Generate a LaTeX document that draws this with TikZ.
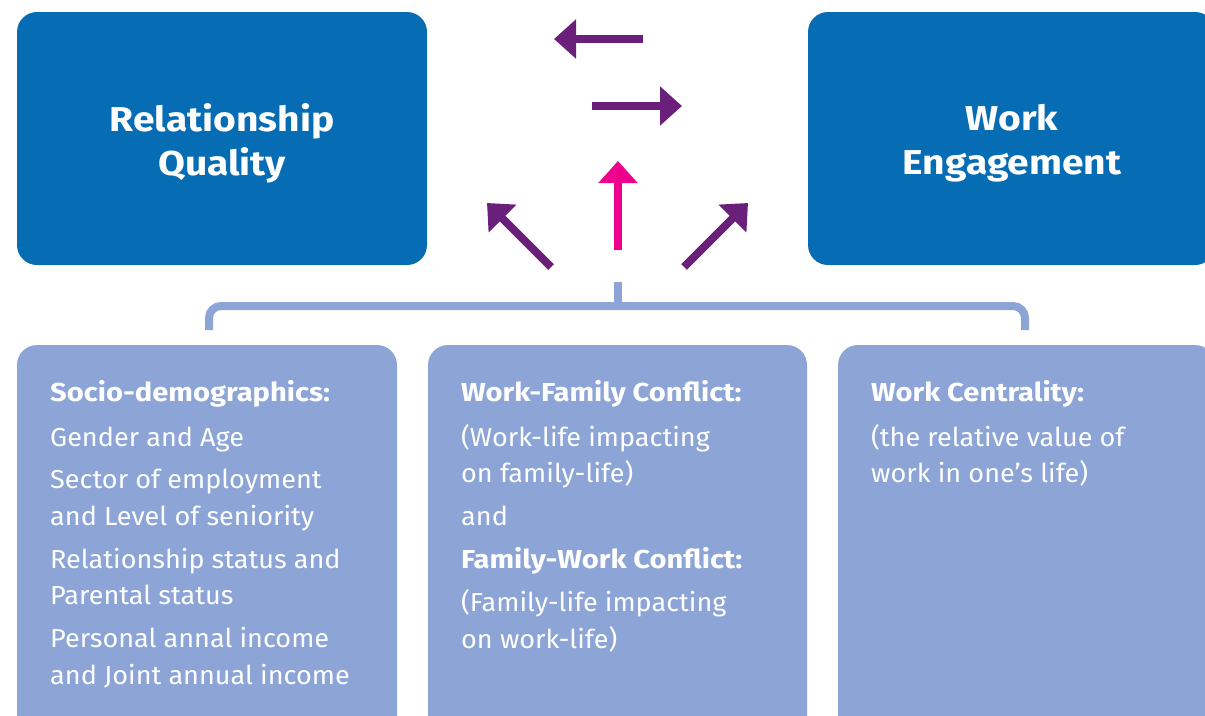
\documentclass[tikz,border=0pt]{standalone}
\usepackage{fontspec}
\setmainfont[FakeStretch=1.04]{Fira Sans}
\newfontfamily\headfont[FakeStretch=1.12]{Fira Sans}
\newfontfamily\titlefont[FakeStretch=1.13]{Fira Sans}
\usetikzlibrary{arrows.meta}
\definecolor{darkblue}{HTML}{066DB5}
\definecolor{lightblue}{HTML}{8CA5D6}
\definecolor{plum}{HTML}{6A1F7A}
\definecolor{pinkish}{HTML}{EC008C}
\newcommand{\hd}[1]{{\headfont\bfseries #1}}
\tikzset{
  topbox/.style={fill=darkblue, rounded corners=20pt, inner sep=0pt},
  lowbox/.style={fill=lightblue, rounded corners=20pt, inner sep=0pt},
  toptext/.style={text=white, align=center, font=\titlefont\bfseries\fontsize{34.5}{44}\selectfont},
  lowtext/.style={text=white, align=left, anchor=north west, inner sep=0pt,
    font=\fontsize{26}{36.5}\selectfont},
  fatarrow/.style={line width=8pt, -{Triangle[length=22pt,width=38pt]}},
  bracket/.style={lightblue, line width=8pt, rounded corners=12pt}
}
\begin{document}
\begin{tikzpicture}[x=1pt,y=-1pt]
  \useasboundingbox (0,0) rectangle (1205,715);
  \clip (0,0) rectangle (1205,715);

  % two outcome boxes
  \node[topbox, minimum width=410pt, minimum height=253pt] (rq) at (222,138.5) {};
  \node[toptext] (rqt) at (222,143) {Relationship\\Quality};
  \node[topbox, minimum width=407pt, minimum height=253pt] (we) at (1011.5,138.5) {};
  \node[toptext] (wet) at (1012,143) {Work\\Engagement};

  % three predictor boxes
  \node[lowbox, minimum width=380pt, minimum height=400pt] (sd) at (207,545) {};
  \node[lowbox, minimum width=379pt, minimum height=400pt] (wf) at (617.5,545) {};
  \node[lowbox, minimum width=377pt, minimum height=400pt] (wc) at (1026.5,545) {};

  \node[lowtext] (sdt) at (50,380) {\hd{Socio-demographics:}\\[8.5pt]
    Gender and Age\\[6pt]
    Sector of employment\\
    and Level of seniority\\[6.5pt]
    Relationship status and\\
    Parental status\\[6.5pt]
    Personal annal income\\
    and Joint annual income};
  \node[lowtext] (wft) at (461,380) {\hd{Work-Family Conflict:}\\[8.5pt]
    (Work-life impacting\\
    on family-life)\\[6.5pt]
    and\\[6.5pt]
    \hd{Family-Work Conflict:}\\[6.5pt]
    (Family-life impacting\\
    on work-life)};
  \node[lowtext] (wct) at (871,380) {\hd{Work Centrality:}\\[8.5pt]
    (the relative value of\\
    work in one’s life)};

  % bracket joining the predictors
  \coordinate (stub) at (618,282);
  \coordinate (mid) at (618,306);
  \coordinate (bl) at (209,330);
  \coordinate (br) at (1025,330);
  \draw[bracket] (bl) -- (209,306) -- (1025,306) -- (br);
  \draw[lightblue, line width=8pt] (stub) -- (mid);

  % arrows
  \coordinate (la1) at (643,39);  \coordinate (la2) at (554,39);
  \coordinate (ra1) at (592,106); \coordinate (ra2) at (682,106);
  \coordinate (ua1) at (618,250); \coordinate (ua2) at (618,161);
  \coordinate (dl1) at (551,267); \coordinate (dl2) at (487,203);
  \coordinate (dr1) at (684,267); \coordinate (dr2) at (748,203);
  \draw[fatarrow, plum] (la1) -- (la2);
  \draw[fatarrow, plum] (ra1) -- (ra2);
  \draw[fatarrow, pinkish] (ua1) -- (ua2);
  \draw[fatarrow, plum] (dl1) -- (dl2);
  \draw[fatarrow, plum] (dr1) -- (dr2);
\end{tikzpicture}
\end{document}
